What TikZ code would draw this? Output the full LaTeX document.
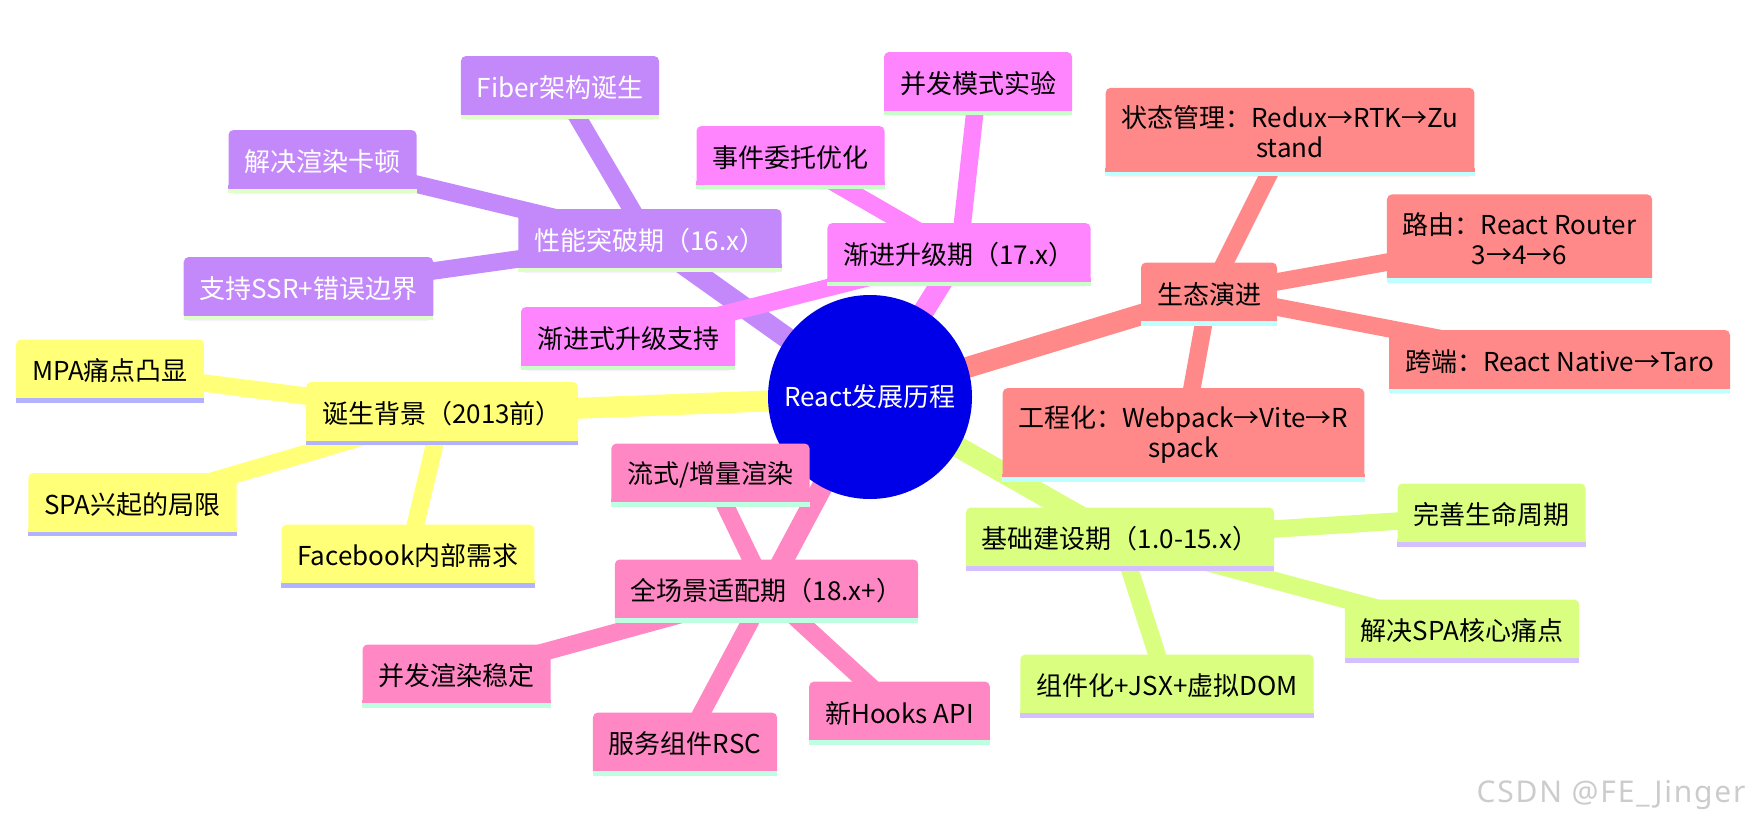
\documentclass[tikz,border=0pt]{standalone}
\usepackage{fontspec}
\setmainfont{Noto Sans CJK SC}
\newfontfamily\wmfont[LetterSpace=6]{Noto Sans}
\usepackage{xcolor}
\usepackage{tikz}
\usetikzlibrary{backgrounds}

\definecolor{rootblue}{RGB}{0,0,232}
\definecolor{yelfill}{RGB}{255,255,120}
\definecolor{yelline}{RGB}{178,178,255}
\definecolor{purfill}{RGB}{195,137,251}
\definecolor{purline}{RGB}{224,255,200}
\definecolor{magfill}{RGB}{255,133,255}
\definecolor{magline}{RGB}{200,255,200}
\definecolor{salfill}{RGB}{255,136,136}
\definecolor{salline}{RGB}{190,255,255}
\definecolor{grnfill}{RGB}{218,255,128}
\definecolor{grnline}{RGB}{212,192,255}
\definecolor{pnkfill}{RGB}{255,136,196}
\definecolor{pnkline}{RGB}{190,255,225}

\newcommand{\mmfont}{\fontsize{26}{30}\selectfont}

\tikzset{
  box/.style={rounded corners=5pt, inner xsep=16pt, inner ysep=18pt,
    minimum height=63pt, align=center, font=\mmfont},
  rootedge/.style={line width=21pt},
  leafedge/.style={line width=17.5pt},
}

\begin{document}
\begin{tikzpicture}[x=1pt, y=-1pt]
  \useasboundingbox (0,0) rectangle (1752,825);
  % Root
  \node[circle, fill=rootblue, text=white, minimum size=204pt, inner sep=0pt,
        font=\mmfont] (root) at (870,397) {React发展历程};
  % Branch: 诞生背景
  \node[box, fill=yelfill] (bg) at (442,413.5) {诞生背景（2013前）};
  \node[box, fill=yelfill] (mpa) at (110,371) {MPA痛点凸显};
  \node[box, fill=yelfill] (spa) at (132.5,504.5) {SPA兴起的局限};
  \node[box, fill=yelfill] (fb) at (408,556) {Facebook内部需求};
  % Branch: 性能突破期
  \node[box, fill=purfill, text=white] (v16) at (650,240.5) {性能突破期（16.x）};
  \node[box, fill=purfill, text=white] (fiber) at (560,87.5) {Fiber架构诞生};
  \node[box, fill=purfill, text=white] (lag) at (322.5,161.5) {解决渲染卡顿};
  \node[box, fill=purfill, text=white] (ssr) at (308.5,288.5) {支持SSR+错误边界};
  % Branch: 渐进升级期
  \node[box, fill=magfill] (v17) at (959,254.5) {渐进升级期（17.x）};
  \node[box, fill=magfill] (conc) at (978,83.5) {并发模式实验};
  \node[box, fill=magfill] (evt) at (790.5,157.5) {事件委托优化};
  \node[box, fill=magfill] (grad) at (628,338.5) {渐进式升级支持};
  % Branch: 生态演进
  \node[box, fill=salfill] (eco) at (1209,294) {生态演进};
  \node[box, fill=salfill] (state) at (1290,132) {状态管理：Redux→RTK→Zu\\stand};
  \node[box, fill=salfill] (route) at (1519.5,238.5) {路由：React Router\\3→4→6};
  \node[box, fill=salfill] (cross) at (1559.5,361.5) {跨端：React Native→Taro};
  \node[box, fill=salfill] (build) at (1183.5,435) {工程化：Webpack→Vite→R\\spack};
  % Branch: 基础建设期
  \node[box, fill=grnfill] (v15) at (1120,539) {基础建设期（1.0-15.x）};
  \node[box, fill=grnfill] (life) at (1491.5,515) {完善生命周期};
  \node[box, fill=grnfill] (pain) at (1462,631) {解决SPA核心痛点};
  \node[box, fill=grnfill] (jsx) at (1167,686) {组件化+JSX+虚拟DOM};
  % Branch: 全场景适配期
  \node[box, fill=pnkfill] (v18) at (766.5,591) {全场景适配期（18.x+）};
  \node[box, fill=pnkfill] (stream) at (710.5,475) {流式/增量渲染};
  \node[box, fill=pnkfill] (stable) at (456.5,676) {并发渲染稳定};
  \node[box, fill=pnkfill] (rsc) at (685,744) {服务组件RSC};
  \node[box, fill=pnkfill] (hooks) at (899.5,713) {新Hooks API};
  % Bottom lines of the boxes
  \foreach \n/\c/\s in {bg/yelfill/yelline, mpa/yelfill/yelline, spa/yelfill/yelline,
      fb/yelfill/yelline, v16/purfill/purline, fiber/purfill/purline, lag/purfill/purline,
      ssr/purfill/purline, v17/magfill/magline, conc/magfill/magline, evt/magfill/magline,
      grad/magfill/magline, eco/salfill/salline, state/salfill/salline, route/salfill/salline,
      cross/salfill/salline, build/salfill/salline, v15/grnfill/grnline, life/grnfill/grnline,
      pain/grnfill/grnline, jsx/grnfill/grnline, v18/pnkfill/pnkline, stream/pnkfill/pnkline,
      stable/pnkfill/pnkline, rsc/pnkfill/pnkline, hooks/pnkfill/pnkline} {
    \fill[\c] (\n.south west) rectangle ([yshift=8pt]\n.south east);
    \fill[\s] (\n.south west) rectangle ([yshift=4.7pt]\n.south east);
  }
  % Connectors
  \begin{pgfonlayer}{background}
    \draw[rootedge, yelfill] (root.center) -- (bg.center);
    \foreach \n in {mpa, spa, fb} \draw[leafedge, yelfill] (bg.center) -- (\n.center);
    \draw[rootedge, purfill] (root.center) -- (v16.center);
    \foreach \n in {fiber, lag, ssr} \draw[leafedge, purfill] (v16.center) -- (\n.center);
    \draw[rootedge, magfill] (root.center) -- (v17.center);
    \foreach \n in {conc, evt, grad} \draw[leafedge, magfill] (v17.center) -- (\n.center);
    \draw[rootedge, salfill] (root.center) -- (eco.center);
    \foreach \n in {state, route, cross, build} \draw[leafedge, salfill] (eco.center) -- (\n.center);
    \draw[rootedge, grnfill] (root.center) -- (v15.center);
    \foreach \n in {life, pain, jsx} \draw[leafedge, grnfill] (v15.center) -- (\n.center);
    \draw[rootedge, pnkfill] (root.center) -- (v18.center);
    \foreach \n in {stream, stable, rsc, hooks} \draw[leafedge, pnkfill] (v18.center) -- (\n.center);
  \end{pgfonlayer}
  % Watermark
  \node[font=\wmfont\fontsize{30}{34}\selectfont, text=gray!40] (wm) at (1611,795) {CSDN @FE\_Jinger};
\end{tikzpicture}
\end{document}
